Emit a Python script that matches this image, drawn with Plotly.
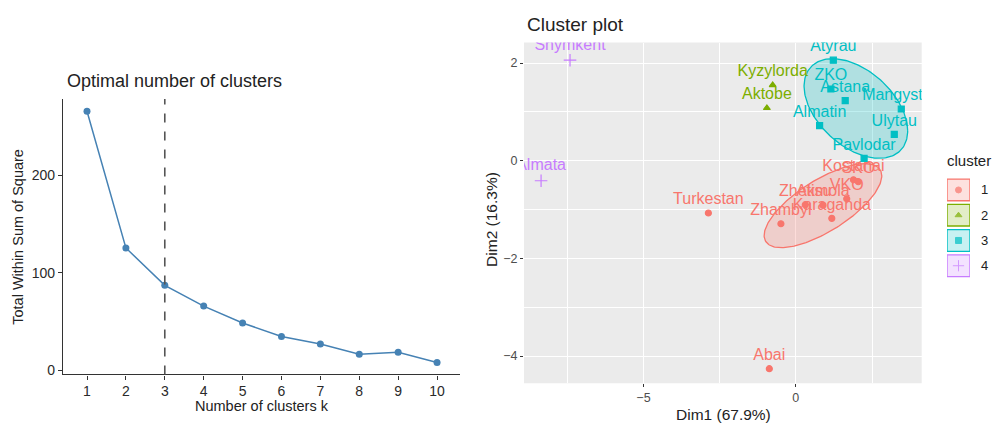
import numpy as np
import plotly.graph_objects as go

# ---------------- data ----------------
k_values = [1, 2, 3, 4, 5, 6, 7, 8, 9, 10]
wss = [265.7, 125.6, 87.3, 66.0, 48.7, 34.8, 27.1, 16.6, 18.6, 8.1]
optimal_k = 3

regions = ["Turkestan", "Zhambyl", "Zhetisu", "Akmola", "Karaganda", "VKO", "Kostanai", "SKO", "Abai",
           "Kyzylorda", "Aktobe",
           "Atyrau", "ZKO", "Astana", "Mangystau", "Almatin", "Ulytau", "Pavlodar",
           "Shymkent", "Almata"]
dim1 = [-2.87, -0.49, 0.31, 0.89, 1.18, 1.67, 1.89, 2.05, -0.87,
        -0.76, -0.95,
        1.23, 1.15, 1.62, 3.46, 0.78, 3.23, 2.24,
        -7.41, -8.36]
dim2 = [-1.07, -1.29, -0.90, -0.91, -1.18, -0.78, -0.39, -0.43, -4.26,
        1.55, 1.08,
        2.06, 1.47, 1.23, 1.06, 0.72, 0.54, 0.05,
        2.06, -0.41]
cluster = [1, 1, 1, 1, 1, 1, 1, 1, 1,
           2, 2,
           3, 3, 3, 3, 3, 3, 3,
           4, 4]

cluster_ids = [1, 2, 3, 4]
cluster_labels = ["1", "2", "3", "4"]
cluster_colors = ["#F8766D", "#7CAE00", "#00BFC4", "#C77CFF"]
cluster_symbols = ["circle", "triangle-up", "square", "cross-thin"]

# ellipse parameters: centre x, centre y, sd x, sd y, correlation
ellipse_clusters = [1, 3]
ellipse_cx = [0.89, 1.97]
ellipse_cy = [-0.92, 1.07]
ellipse_sx = [1.93, 1.70]
ellipse_sy = [0.86, 1.02]
ellipse_r = [0.71, -0.45]

W, H = 993, 426
FONT = "Liberation Sans, Arial, sans-serif"


def pxx(x):
    return x / W


def pyy(y):
    return 1 - y / H


def rgba(hexc, a):
    h = hexc.lstrip("#")
    return "rgba(%d,%d,%d,%.2f)" % (int(h[0:2], 16), int(h[2:4], 16), int(h[4:6], 16), a)


fig = go.Figure()

# ---------------- left: elbow plot ----------------
fig.add_trace(go.Scatter(
    x=k_values, y=wss, mode="lines+markers",
    line=dict(color="#4682B4", width=1.5),
    marker=dict(color="#4682B4", size=7),
    xaxis="x", yaxis="y", showlegend=False))

# ---------------- right: cluster plot ----------------
t = np.linspace(0, 2 * np.pi, 200)
for cid, cx, cy, sx, sy, r in zip(ellipse_clusters, ellipse_cx, ellipse_cy, ellipse_sx, ellipse_sy, ellipse_r):
    col = cluster_colors[cluster_ids.index(cid)]
    ex = cx + sx * np.cos(t)
    ey = cy + sy * (r * np.cos(t) + np.sqrt(1 - r * r) * np.sin(t))
    fig.add_trace(go.Scatter(
        x=ex, y=ey, mode="lines", fill="toself",
        fillcolor=rgba(col, 0.25), line=dict(color=col, width=1.3),
        xaxis="x2", yaxis="y2", showlegend=False, hoverinfo="skip"))

for cid, col, sym in zip(cluster_ids, cluster_colors, cluster_symbols):
    idx = [i for i, c in enumerate(cluster) if c == cid]
    size = 9 if sym == "cross-thin" else 6
    fig.add_trace(go.Scatter(
        x=[dim1[i] for i in idx], y=[dim2[i] for i in idx],
        text=[regions[i] for i in idx],
        mode="markers+text", textposition="top center",
        textfont=dict(color=col, size=16, family=FONT),
        marker=dict(symbol=sym, color=col, size=size, line=dict(color=col, width=1.2)),
        xaxis="x2", yaxis="y2", showlegend=False, cliponaxis=True))

# ---------------- manual legend (keys on a hidden axis) ----------------
for cid, col, sym in zip(cluster_ids, cluster_colors, cluster_symbols):
    fig.add_shape(type="rect", xref="x3", yref="y3", x0=-0.5, x1=0.5, y0=cid - 0.43, y1=cid + 0.43,
                  fillcolor=rgba(col, 0.22), line=dict(color=col, width=1.4))
fig.add_trace(go.Scatter(
    x=[0] * len(cluster_ids), y=cluster_ids, mode="markers",
    marker=dict(symbol=cluster_symbols, color=cluster_colors, size=[6, 6, 6, 8],
                line=dict(color=cluster_colors, width=1)),
    xaxis="x3", yaxis="y3", showlegend=False, hoverinfo="skip", cliponaxis=False))

# dashed line at optimal k
fig.add_shape(type="line", xref="x", yref="y domain", x0=optimal_k, x1=optimal_k, y0=0, y1=1,
              line=dict(color="#555555", width=1.6, dash="dash"))
# grey panel for cluster plot
fig.add_shape(type="rect", xref="x2 domain", yref="y2 domain", x0=0, x1=1, y0=0, y1=1,
              fillcolor="#EBEBEB", line=dict(width=0), layer="below")

annotations = [
    dict(text="Optimal number of clusters", x=pxx(65), y=pyy(82), xanchor="left", yanchor="middle",
         font=dict(size=18, color="#222222")),
    dict(text="Number of clusters k", x=pxx(261.5), y=pyy(410), xanchor="center", yanchor="middle",
         font=dict(size=14.5, color="#222222")),
    dict(text="Total Within Sum of Square", x=pxx(18), y=pyy(239), xanchor="center", yanchor="middle",
         textangle=-90, font=dict(size=14.5, color="#222222")),
    dict(text="Cluster plot", x=pxx(525), y=pyy(25), xanchor="left", yanchor="middle",
         font=dict(size=19, color="#222222")),
    dict(text="Dim1 (67.9%)", x=pxx(723), y=pyy(418), xanchor="center", yanchor="middle",
         font=dict(size=15.5, color="#222222")),
    dict(text="Dim2 (16.3%)", x=pxx(492), y=pyy(222), xanchor="center", yanchor="middle",
         textangle=-90, font=dict(size=15.5, color="#222222")),
    dict(text="cluster", x=pxx(945), y=pyy(162), xanchor="left", yanchor="middle",
         font=dict(size=15, color="#222222")),
]
for a in annotations:
    a.update(xref="paper", yref="paper")
for cid, lab in zip(cluster_ids, cluster_labels):
    annotations.append(dict(text=lab, x=pxx(979), xref="paper", y=cid, yref="y3",
                            xanchor="left", yanchor="middle", font=dict(size=13, color="#222222")))
for a in annotations:
    a.update(showarrow=False)

hidden = dict(visible=False, showgrid=False, zeroline=False, fixedrange=True)

fig.update_layout(
    width=W, height=H, margin=dict(l=0, r=0, t=0, b=0),
    paper_bgcolor="white", plot_bgcolor="white",
    font=dict(family=FONT, color="#222222"),
    annotations=annotations, showlegend=False,
    xaxis=dict(domain=[pxx(63), pxx(460)], range=[0.383, 10.59], tickvals=k_values,
               ticks="outside", ticklen=4, tickwidth=1.1, tickcolor="#333333",
               showline=True, linecolor="#333333", linewidth=1.2, showgrid=False, zeroline=False,
               tickfont=dict(size=14, color="#2a2a2a"), anchor="y"),
    yaxis=dict(domain=[pyy(378), pyy(100)], range=[-4.06, 278.2], tickvals=[0, 100, 200],
               ticks="outside", ticklen=4, tickwidth=1.1, tickcolor="#333333",
               showline=True, linecolor="#333333", linewidth=1.2, showgrid=False, zeroline=False,
               tickfont=dict(size=14, color="#2a2a2a"), anchor="x"),
    xaxis2=dict(domain=[pxx(524), pxx(921.7)], range=[-8.92, 4.13], tick0=0, dtick=5,
                ticks="outside", ticklen=3, tickwidth=1.1, tickcolor="#333333",
                showline=False, showgrid=True, gridcolor="white", gridwidth=1.3, zeroline=False,
                minor=dict(dtick=2.5, tick0=0, showgrid=True, gridcolor="white", gridwidth=0.6),
                tickfont=dict(size=12.5, color="#4D4D4D"), anchor="y2"),
    yaxis2=dict(domain=[pyy(387), pyy(43)], range=[-4.56, 2.42], tick0=0, dtick=2,
                ticks="outside", ticklen=3, tickwidth=1.1, tickcolor="#333333",
                showline=False, showgrid=True, gridcolor="white", gridwidth=1.3, zeroline=False,
                minor=dict(dtick=1, tick0=0, showgrid=True, gridcolor="white", gridwidth=0.6),
                tickfont=dict(size=12.5, color="#4D4D4D"), anchor="x2"),
    xaxis3=dict(domain=[pxx(947), pxx(970)], range=[-0.5, 0.5], anchor="y3", **hidden),
    yaxis3=dict(domain=[pyy(281), pyy(179)], range=[4.5, 0.5], anchor="x3", **hidden),
)

fig.write_html("out.html")
